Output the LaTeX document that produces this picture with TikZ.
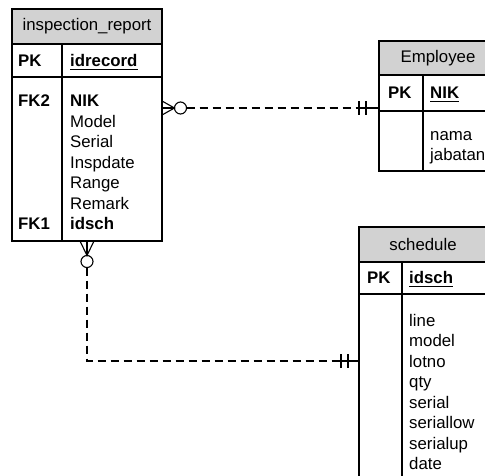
\documentclass[tikz,border=0pt]{standalone}
\usepackage{fontspec}
\setmainfont{Liberation Sans}
\usetikzlibrary{calc}
\definecolor{headgray}{RGB}{210,210,210}
\begin{document}
\begin{tikzpicture}[x=1pt,y=-1pt,
  box/.style={draw=black, line width=1.1pt, fill=white, inner sep=0pt, outer sep=0pt, anchor=north west},
  head/.style={box, fill=headgray},
  title/.style={inner sep=0pt, font=\fontsize{16.8}{19}\selectfont},
  txt/.style={inner sep=0pt, anchor=base west, font=\fontsize{16.8}{19}\selectfont},
  keytxt/.style={txt, font=\fontsize{16.8}{19}\selectfont\bfseries},
  uline/.style={line width=1.1pt},
  foot/.style={line width=1.1pt},
  rel/.style={line width=1.1pt, dash pattern=on 8pt off 5pt},
  endcirc/.style={draw=black, circle, fill=white, line width=1.1pt, minimum size=12pt, inner sep=0pt, outer sep=0pt}]
\useasboundingbox (0,0) rectangle (485,475);
\clip (0,0) rectangle (485,475);

% ---------- inspection_report ----------
\node[box, minimum width=150pt, minimum height=232pt] (ir) at (12,9) {};
\node[head, minimum width=150pt, minimum height=35pt] (irhead) at (12,9) {};
\node[box, minimum width=150pt, minimum height=33pt] (irpk) at (12,44) {};
\draw[foot] (irpk.north west) ++(50,0) coordinate (irdivtop) -- (irdivtop |- ir.south);
\node[title] (irtitle) at (irhead.center) {inspection\_report};
\node[keytxt] (irpklbl) at (18,66.5) {PK};
\node[keytxt] (irpkfld) at (70,66.5) {idrecord};
\draw[uline] ([yshift=-2.6pt]irpkfld.base west) -- ([yshift=-2.6pt]irpkfld.base east);
\node[keytxt] (irfk2) at (18,106.5) {FK2};
\node[keytxt] (irf1) at (70,106.5) {NIK};
\node[txt] (irf2) at (70,127) {Model};
\node[txt] (irf3) at (70,147.5) {Serial};
\node[txt] (irf4) at (70,168) {Inspdate};
\node[txt] (irf5) at (70,188.5) {Range};
\node[txt] (irf6) at (70,209) {Remark};
\node[keytxt] (irfk1) at (18,229.5) {FK1};
\node[keytxt] (irf7) at (70,229.5) {idsch};

% ---------- Employee ----------
\node[box, minimum width=118pt, minimum height=130pt] (emp) at (379,41) {};
\node[head, minimum width=118pt, minimum height=34pt] (emphead) at (379,41) {};
\node[box, minimum width=118pt, minimum height=36pt] (emppk) at (379,75) {};
\draw[foot] (emppk.north west) ++(44,0) coordinate (empdivtop) -- (empdivtop |- emp.south);
\node[title] (emptitle) at (emphead.center) {Employee};
\node[keytxt] (emppklbl) at (388,98.5) {PK};
\node[keytxt] (emppkfld) at (430,98.5) {NIK};
\draw[uline] ([yshift=-2.6pt]emppkfld.base west) -- ([yshift=-2.6pt]emppkfld.base east);
\node[txt] (empf1) at (430,140) {nama};
\node[txt] (empf2) at (430,160.5) {jabatan};

% ---------- schedule ----------
\node[box, minimum width=128pt, minimum height=260pt] (sch) at (359,227) {};
\node[head, minimum width=128pt, minimum height=35pt] (schhead) at (359,227) {};
\node[box, minimum width=128pt, minimum height=32pt] (schpk) at (359,262) {};
\draw[foot] (schpk.north west) ++(43,0) coordinate (schdivtop) -- (schdivtop |- sch.south);
\node[title] (schtitle) at (schhead.center) {schedule};
\node[keytxt] (schpklbl) at (367,283.5) {PK};
\node[keytxt] (schpkfld) at (409,283.5) {idsch};
\draw[uline] ([yshift=-2.6pt]schpkfld.base west) -- ([yshift=-2.6pt]schpkfld.base east);
\node[txt] (schf1) at (409,326) {line};
\node[txt] (schf2) at (409,346.5) {model};
\node[txt] (schf3) at (409,367) {lotno};
\node[txt] (schf4) at (409,387.5) {qty};
\node[txt] (schf5) at (409,408) {serial};
\node[txt] (schf6) at (409,428.5) {seriallow};
\node[txt] (schf7) at (409,449) {serialup};
\node[txt] (schf8) at (409,469.5) {date};

% ---------- inspection_report >o----|| Employee ----------
\coordinate (r1s) at (ir.east |- 0,108);
\coordinate (r1e) at (emp.west |- 0,108);
\node[endcirc] (r1o) at ($(r1s)+(18.5,0)$) {};
\draw[rel] (r1o.east) -- ($(r1e)+(-20,0)$);
\draw[foot] ($(r1e)+(-20,0)$) -- (r1e);
\draw[foot] ($(r1s)+(0,-7)$) -- (r1o.west) -- ($(r1s)+(0,7)$);
\draw[foot] (r1s) -- (r1o.west);
\draw[foot] ($(r1e)+(-20,-7)$) -- ++(0,14);
\draw[foot] ($(r1e)+(-13,-7)$) -- ++(0,14);

% ---------- inspection_report >o----|| schedule ----------
\coordinate (r2s) at (87,0 |- ir.south);
\coordinate (r2e) at (sch.west |- 0,361);
\node[endcirc] (r2o) at ($(r2s)+(0,20.5)$) {};
\draw[rel] (r2o.south) |- ($(r2e)+(-18,0)$);
\draw[foot] ($(r2e)+(-18,0)$) -- (r2e);
\draw[foot] ($(r2s)+(-7,0)$) -- (r2o.north) -- ($(r2s)+(7,0)$);
\draw[foot] (r2s) -- (r2o.north);
\draw[foot] ($(r2e)+(-18,-7)$) -- ++(0,14);
\draw[foot] ($(r2e)+(-11,-7)$) -- ++(0,14);
\end{tikzpicture}
\end{document}
